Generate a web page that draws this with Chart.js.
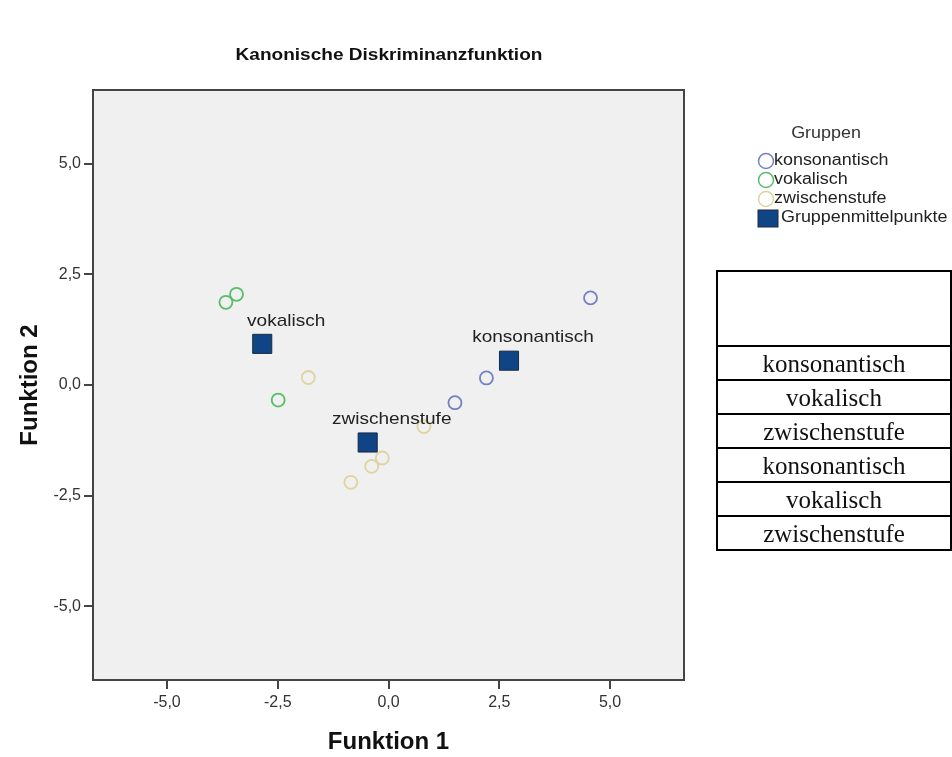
<!DOCTYPE html>
<html>
<head>
<meta charset="utf-8">
<title>Kanonische Diskriminanzfunktion</title>
<script src="https://cdn.jsdelivr.net/npm/chart.js@4"></script>
<style>
  html, body { margin: 0; padding: 0; background: #fff; overflow: hidden; }
  #wrap { position: relative; width: 952px; height: 757px; overflow: hidden; }
  #chart { position: absolute; left: 0; top: 0; }
  /* table on the right, cut off by the window edge like in the original */
  table.tab {
    position: absolute; left: 716px; top: 270px;
    width: 360px; table-layout: fixed;
    border-collapse: collapse;
    font-family: "Liberation Serif", "Times New Roman", serif;
    font-size: 25px; color: #111;
  }
  table.tab td { border: 2px solid #000; padding: 0; text-align: center; line-height: 1; white-space: nowrap; }
  table.tab col.c1 { width: 234px; }
  table.tab col.c2 { width: 126px; }
  table.tab tr.h1 td { height: 41px; }
  table.tab tr.h2 td { height: 30px; }
  table.tab tr.r td { height: 32px; }
</style>
</head>
<body>
<div id="wrap">
  <canvas id="chart" width="952" height="757"></canvas>
  <table class="tab">
    <colgroup><col class="c1"><col class="c2"></colgroup>
    <tr class="h1"><td rowspan="2"></td><td></td></tr>
    <tr class="h2"><td></td></tr>
    <tr class="r"><td>konsonantisch</td><td></td></tr>
    <tr class="r"><td>vokalisch</td><td></td></tr>
    <tr class="r"><td>zwischenstufe</td><td></td></tr>
    <tr class="r"><td>konsonantisch</td><td></td></tr>
    <tr class="r"><td>vokalisch</td><td></td></tr>
    <tr class="r"><td>zwischenstufe</td><td></td></tr>
  </table>
</div>

<script>
// values
const TICK_VALUES = [-5, -2.5, 0, 2.5, 5];
const AXIS_MIN = -6.67;
const AXIS_MAX = 6.67;

const KONS_X = [4.56, 2.21, 1.50];
const KONS_Y = [1.97, 0.16, -0.40];
const VOK_X = [-3.67, -3.43, -2.49];
const VOK_Y = [1.87, 2.05, -0.34];
const ZWI_X = [-1.81, -0.14, -0.38, -0.85, 0.80];
const ZWI_Y = [0.17, -1.65, -1.84, -2.20, -0.94];

const CENTROID_NAMES = ['konsonantisch', 'vokalisch', 'zwischenstufe'];
const CENTROID_X = [2.72, -2.85, -0.47];
const CENTROID_Y = [0.55, 0.93, -1.30];

const LEGEND_TITLE = 'Gruppen';
const LEGEND_LABELS = ['konsonantisch', 'vokalisch', 'zwischenstufe', 'Gruppenmittelpunkte'];

const FONT = '"Liberation Sans", Arial, sans-serif';
const C_KONS = '#7481c2';
const C_VOK = '#56bd68';
const C_ZWI = '#ddd4a0';
const C_CENT = '#0f4584';
const C_CENT_EDGE = '#1c2a42';
const SX = 1.12; // the original picture is a little stretched sideways

function pts(xs, ys) {
  return xs.map((x, i) => ({ x: x, y: ys[i] }));
}

function fmt(v) {
  return Number(v).toFixed(1).replace('.', ',');
}

function wideText(ctx, text, x, y, font, color, align) {
  ctx.save();
  ctx.font = font;
  ctx.fillStyle = color;
  ctx.textBaseline = 'middle';
  ctx.textAlign = align || 'center';
  ctx.translate(x, y);
  ctx.scale(SX, 1);
  ctx.fillText(text, 0, 0);
  ctx.restore();
}

// grey plot background
const plotBg = {
  id: 'plotBg',
  beforeDraw(chart) {
    const a = chart.chartArea, ctx = chart.ctx;
    ctx.save();
    ctx.fillStyle = '#f0f0f0';
    ctx.fillRect(a.left, a.top, a.right - a.left, a.bottom - a.top);
    ctx.restore();
  }
};

// frame, centroid labels, title and legend
const decorations = {
  id: 'decorations',
  afterDraw(chart) {
    const a = chart.chartArea, ctx = chart.ctx;
    ctx.save();
    ctx.strokeStyle = '#444';
    ctx.lineWidth = 2;
    ctx.strokeRect(a.left, a.top, a.right - a.left, a.bottom - a.top);
    ctx.restore();

    const meta = chart.getDatasetMeta(0);
    meta.data.forEach((el, i) => {
      wideText(ctx, CENTROID_NAMES[i], el.x + 24, el.y - 23, '17px ' + FONT, '#222');
    });

    wideText(ctx, 'Kanonische Diskriminanzfunktion', 389, 55, 'bold 17px ' + FONT, '#111');

    // legend
    const lx = 766, ty = 134, y0 = 161, dy = 19;
    wideText(ctx, LEGEND_TITLE, 826, ty, '16px ' + FONT, '#333');
    const cols = [C_KONS, C_VOK, C_ZWI];
    LEGEND_LABELS.forEach((lab, i) => {
      const y = y0 + i * dy;
      ctx.save();
      if (i < 3) {
        ctx.strokeStyle = cols[i];
        ctx.lineWidth = 1.5;
        ctx.beginPath();
        ctx.arc(lx, y, 7.5, 0, Math.PI * 2);
        ctx.stroke();
      } else {
        ctx.fillStyle = C_CENT;
        ctx.strokeStyle = C_CENT_EDGE;
        ctx.lineWidth = 1;
        ctx.fillRect(758, y - 8, 20, 17);
        ctx.strokeRect(758, y - 8, 20, 17);
      }
      ctx.restore();
      wideText(ctx, lab, i < 3 ? 774 : 781, y, '16px ' + FONT, '#222', 'left');
    });
  }
};

const axisCommon = {
  type: 'linear',
  min: AXIS_MIN,
  max: AXIS_MAX,
  afterBuildTicks: s => { s.ticks = TICK_VALUES.map(v => ({ value: v })); },
  grid: { drawOnChartArea: false, drawTicks: true, tickLength: 9, color: '#444', lineWidth: 2 },
  border: { display: false }
};

new Chart(document.getElementById('chart'), {
  type: 'scatter',
  data: {
    datasets: [
      {
        label: 'Gruppenmittelpunkte',
        data: pts(CENTROID_X, CENTROID_Y),
        pointStyle: 'rect',
        pointRadius: 13.5,
        backgroundColor: C_CENT,
        borderColor: C_CENT_EDGE,
        borderWidth: 1,
        order: 0
      },
      {
        label: 'konsonantisch',
        data: pts(KONS_X, KONS_Y),
        pointRadius: 6.5,
        backgroundColor: 'rgba(0,0,0,0)',
        borderColor: C_KONS,
        borderWidth: 1.8,
        order: 1
      },
      {
        label: 'vokalisch',
        data: pts(VOK_X, VOK_Y),
        pointRadius: 6.5,
        backgroundColor: 'rgba(0,0,0,0)',
        borderColor: C_VOK,
        borderWidth: 1.8,
        order: 2
      },
      {
        label: 'zwischenstufe',
        data: pts(ZWI_X, ZWI_Y),
        pointRadius: 6.5,
        backgroundColor: 'rgba(0,0,0,0)',
        borderColor: C_ZWI,
        borderWidth: 1.8,
        order: 3
      }
    ]
  },
  options: {
    responsive: false,
    animation: false,
    layout: { padding: { top: 90, right: 268, left: 0, bottom: 0 } },
    plugins: {
      legend: { display: false },
      tooltip: { enabled: false },
      title: { display: false }
    },
    scales: {
      x: Object.assign({}, axisCommon, {
        afterFit: s => { s.height = 77; },
        ticks: { font: { family: FONT, size: 16 }, color: '#333', padding: 4, maxRotation: 0, autoSkip: false, callback: v => fmt(v) },
        title: { display: true, text: 'Funktion 1', color: '#111', font: { family: FONT, size: 24, weight: 'bold' }, padding: { top: 0, bottom: 0 } }
      }),
      y: Object.assign({}, axisCommon, {
        afterFit: s => { s.width = 93; },
        ticks: { font: { family: FONT, size: 16 }, color: '#333', padding: 3, autoSkip: false, callback: v => fmt(v) },
        title: { display: true, text: 'Funktion 2', color: '#111', font: { family: FONT, size: 24, weight: 'bold' }, padding: { top: 16, bottom: 0 } }
      })
    }
  },
  plugins: [plotBg, decorations]
});
</script>
</body>
</html>
